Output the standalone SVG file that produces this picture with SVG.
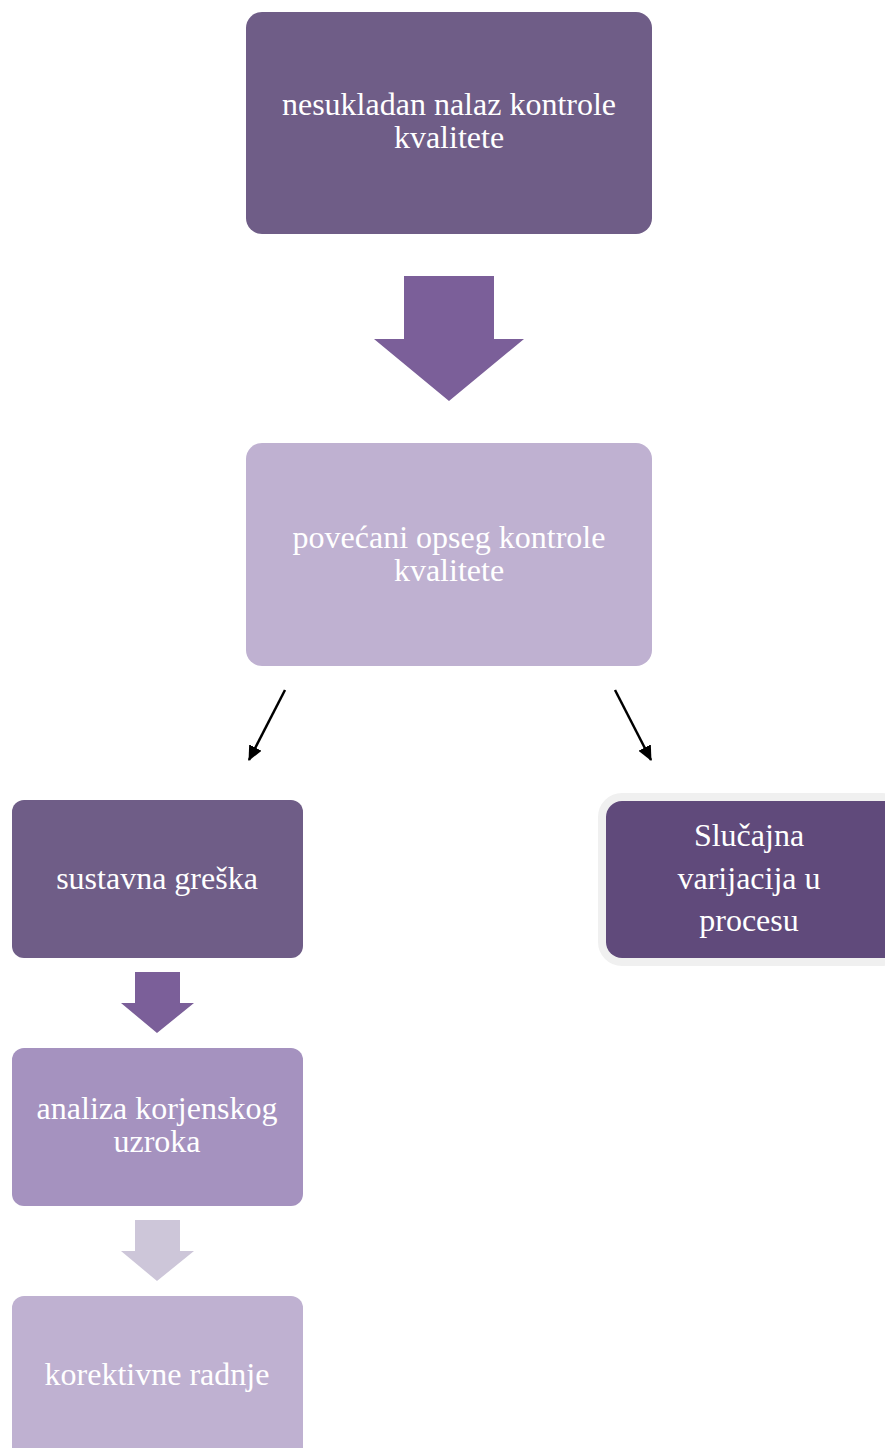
<svg xmlns="http://www.w3.org/2000/svg" width="885" height="1448" viewBox="0 0 885 1448">
<style>
.t{font-family:'Liberation Serif','Times New Roman',serif;font-size:32px;fill:#ffffff;text-anchor:middle}
</style>
<defs>
<marker id="ah" markerWidth="15" markerHeight="14" refX="14" refY="7" orient="auto" markerUnits="userSpaceOnUse" viewBox="0 0 15 14">
<path d="M0,0 L15,7 L0,14 Z" fill="#000"/>
</marker>
</defs>
<rect width="885" height="1448" fill="#ffffff"/>
<g id="n1">
<rect x="246" y="12" width="406" height="222" rx="16" fill="#6f5d87"/>
<text class="t" x="449" y="115">nesukladan nalaz kontrole</text>
<text class="t" x="449" y="148">kvalitete</text>
</g>
<g id="n2">
<rect x="246" y="443" width="406" height="223" rx="16" fill="#bfb1d1"/>
<text class="t" x="449" y="548">povećani opseg kontrole</text>
<text class="t" x="449" y="581">kvalitete</text>
</g>
<g id="n3">
<rect x="12" y="800" width="291" height="158" rx="12" fill="#6f5d87"/>
<text class="t" x="157" y="889">sustavna greška</text>
</g>
<g id="n4">
<rect x="602" y="797" width="300" height="165" rx="20" fill="none" stroke="#f0f0f0" stroke-width="8"/>
<rect x="606" y="801" width="300" height="157" rx="16" fill="#604a7b"/>
<text class="t" x="749" y="846">Slučajna</text>
<text class="t" x="749" y="889">varijacija u</text>
<text class="t" x="749" y="931">procesu</text>
</g>
<g id="n5">
<rect x="12" y="1048" width="291" height="158" rx="12" fill="#a592bf"/>
<text class="t" x="157" y="1119">analiza korjenskog</text>
<text class="t" x="157" y="1152">uzroka</text>
</g>
<g id="n6">
<rect x="12" y="1296" width="291" height="170" rx="12" fill="#bfb1d1"/>
<text class="t" x="157" y="1385">korektivne radnje</text>
</g>
<g id="connectors">
<path d="M404,276 H494 V339 H524 L449,401 L374,339 H404 Z" fill="#7b5f99"/>
<path d="M135,972 H180 V1003 H194 L157,1033 L121,1003 H135 Z" fill="#7b5f99"/>
<path d="M135,1220 H180 V1251 H194 L157,1281 L121,1251 H135 Z" fill="#cdc6d9"/>
<line x1="285" y1="690" x2="249" y2="760" stroke="#000" stroke-width="2.5" marker-end="url(#ah)"/>
<line x1="615" y1="690" x2="651" y2="760" stroke="#000" stroke-width="2.5" marker-end="url(#ah)"/>
</g>
</svg>
